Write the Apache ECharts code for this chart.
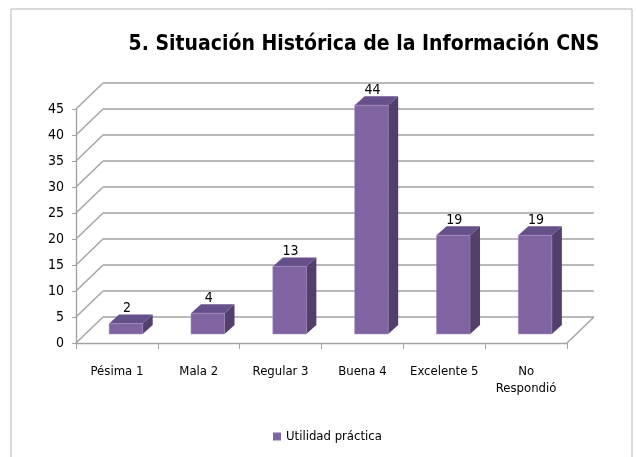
<!DOCTYPE html>
<html>
<head>
<meta charset="utf-8">
<script src="https://cdn.jsdelivr.net/npm/echarts@6/dist/echarts.min.js"></script>
<style>
  html, body { margin: 0; padding: 0; background: #fff; }
  #chart { width: 636px; height: 457px; }
</style>
</head>
<body>
<div id="chart"></div>
<script>
// 数据
const categories = ['Pésima 1', 'Mala 2', 'Regular 3', 'Buena 4', 'Excelente 5', 'No\nRespondió']
const values = [2, 4, 13, 44, 19, 19]
const yTicks = [0, 5, 10, 15, 20, 25, 30, 35, 40, 45]
const seriesName = 'Utilidad práctica'
const titleText = '5. Situación Histórica de la Información CNS'

// 3D 效果参数
const DEPTH_X = 27
const DEPTH_Y = -26
const BAR_OFF_X = 9
const BAR_OFF_Y = -9
const BAR_DEPTH_X = 10
const BAR_DEPTH_Y = -9
const FONT = "'Liberation Sans Narrow', 'DejaVu Sans Condensed', 'Liberation Sans', sans-serif"
const GRID_COLOR = '#a3a3a3'

const chart = echarts.init(document.getElementById('chart'))

// 背景墙和侧墙的网格线
const renderWalls = (params, api) => {
  const v = api.value(1)
  const p0 = api.coord([0, v])
  const band = api.size([1, 0])[0]
  const left = p0[0] - band / 2
  const right = left + band * categories.length
  const y = p0[1]
  const style = { stroke: GRID_COLOR, lineWidth: 1.4 }
  const children = [
    { type: 'line', shape: { x1: left, y1: y, x2: left + DEPTH_X, y2: y + DEPTH_Y }, style },
    { type: 'line', shape: { x1: left + DEPTH_X, y1: y + DEPTH_Y, x2: right + DEPTH_X, y2: y + DEPTH_Y }, style }
  ]
  if (v === 0) {
    children.push({ type: 'line', shape: { x1: right, y1: y, x2: right + DEPTH_X, y2: y + DEPTH_Y }, style })
  }
  return { type: 'group', children }
}

// 立体柱子
const renderBar = (params, api) => {
  const i = api.value(0)
  const v = api.value(1)
  const top = api.coord([i, v])
  const base = api.coord([i, 0])
  const w = api.size([1, 0])[0] * 0.41
  const x0 = top[0] - w / 2 + BAR_OFF_X
  const x1 = x0 + w
  const yT = top[1] + BAR_OFF_Y
  const yB = base[1] + BAR_OFF_Y
  return {
    type: 'group',
    children: [
      {
        type: 'polygon',
        shape: { points: [[x1, yT], [x1 + BAR_DEPTH_X, yT + BAR_DEPTH_Y], [x1 + BAR_DEPTH_X, yB + BAR_DEPTH_Y], [x1, yB]] },
        style: { fill: '#523f6b' }
      },
      {
        type: 'polygon',
        shape: { points: [[x0, yT], [x0 + BAR_DEPTH_X, yT + BAR_DEPTH_Y], [x1 + BAR_DEPTH_X, yT + BAR_DEPTH_Y], [x1, yT]] },
        style: { fill: '#66508a' }
      },
      {
        type: 'rect',
        shape: { x: x0, y: yT, width: w, height: yB - yT },
        style: { fill: '#8064a2', stroke: '#a08cc0', lineWidth: 0.5 }
      },
      {
        type: 'text',
        style: {
          text: String(v),
          x: (x0 + x1) / 2 + 1,
          y: yT + BAR_DEPTH_Y - 6,
          align: 'center',
          verticalAlign: 'middle',
          font: '14px ' + FONT,
          fill: '#000'
        }
      }
    ]
  }
}

const option = {
  animation: false,
  backgroundColor: '#fff',
  graphic: [
    {
      type: 'rect',
      shape: { x: 11, y: 9, width: 621, height: 470 },
      style: { fill: 'none', stroke: '#b5b5b5', lineWidth: 1 },
      silent: true
    }
  ],
  title: {
    text: titleText,
    left: 359,
    top: 29,
    textAlign: 'center',
    textStyle: { fontFamily: FONT, fontSize: 21, fontWeight: 'bold', color: '#000' }
  },
  legend: {
    data: [{ name: seriesName, icon: 'rect' }],
    top: 430,
    left: 273,
    padding: 0,
    itemWidth: 8,
    itemHeight: 8,
    itemGap: 3,
    textStyle: { fontFamily: FONT, fontSize: 13, color: '#000' }
  },
  grid: {
    left: 76,
    right: 69,
    top: 109,
    bottom: 114
  },
  xAxis: {
    type: 'category',
    data: categories,
    axisLine: { lineStyle: { color: GRID_COLOR, width: 1.4 } },
    axisTick: { show: true, length: 6, alignWithLabel: false, lineStyle: { color: GRID_COLOR } },
    axisLabel: { margin: 20, lineHeight: 17, fontFamily: FONT, fontSize: 13, color: '#000', interval: 0 },
    splitLine: { show: false }
  },
  yAxis: {
    type: 'value',
    min: 0,
    max: 45,
    interval: 5,
    axisLine: { show: true, lineStyle: { color: GRID_COLOR, width: 1.4 } },
    axisTick: { show: true, length: 4, lineStyle: { color: GRID_COLOR } },
    axisLabel: { margin: 12, fontFamily: FONT, fontSize: 14, color: '#000' },
    splitLine: { show: false }
  },
  series: [
    {
      name: 'walls',
      type: 'custom',
      silent: true,
      z: 1,
      renderItem: renderWalls,
      data: yTicks.map((v) => [0, v])
    },
    {
      name: seriesName,
      type: 'custom',
      z: 5,
      itemStyle: { color: '#8064a2' },
      renderItem: renderBar,
      data: values.map((v, i) => [i, v])
    }
  ]
}

chart.setOption(option)
</script>
</body>
</html>
